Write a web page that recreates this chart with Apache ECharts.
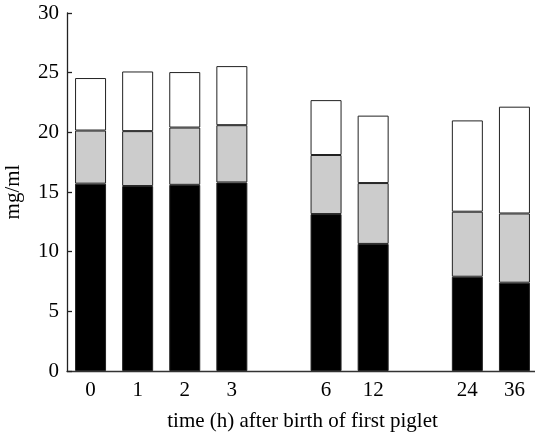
<!DOCTYPE html>
<html>
<head>
<meta charset="utf-8">
<script src="https://cdn.jsdelivr.net/npm/echarts@6/dist/echarts.min.js"></script>
<style>html,body{margin:0;padding:0;background:#fff;}#c{width:535px;height:434px;}</style>
</head>
<body>
<div id="c"></div>
<script>
// Categories ('' = visual gap between groups)
var categories = ['0', '1', '2', '3', '', '6', '12', '', '24', '36'];
// Stacked segments (mg/ml), bottom to top
var blackValues = [15.7, 15.5, 15.6, 15.8, '-', 13.15, 10.65, '-', 7.9, 7.4];
var grayValues  = [4.45, 4.6, 4.8, 4.8, '-', 4.95, 5.1, '-', 5.45, 5.8];
var whiteValues = [4.4, 5.0, 4.65, 4.95, '-', 4.6, 5.65, '-', 7.65, 8.95];
var yTicks = [0, 5, 10, 15, 20, 25, 30];

var font = 'Liberation Serif';
var chart = echarts.init(document.getElementById('c'), null, {renderer: 'canvas'});
function seg(name, data, color) {
  return {
    name: name, type: 'bar', stack: 'total', data: data, barWidth: 31,
    itemStyle: {color: color, borderColor: '#222', borderWidth: 1},
    emphasis: {disabled: true}
  };
}
chart.setOption({
  animation: false,
  backgroundColor: '#fff',
  grid: {left: 67, right: -3, top: 13, bottom: 63, containLabel: false, outerBoundsMode: 'none'},
  xAxis: {
    type: 'category',
    data: categories,
    name: 'time (h) after birth of first piglet',
    nameLocation: 'middle',
    nameGap: 40,
    nameTextStyle: {fontFamily: font, fontSize: 21, color: '#000'},
    axisLine: {lineStyle: {color: '#333', width: 1.3}},
    axisTick: {show: false},
    axisLabel: {fontFamily: font, fontSize: 21, color: '#000', margin: 9, interval: 0},
    splitLine: {show: false}
  },
  yAxis: {
    type: 'value',
    min: yTicks[0], max: yTicks[yTicks.length - 1], interval: 5,
    name: 'mg/ml',
    nameLocation: 'middle',
    nameGap: 43,
    nameTextStyle: {fontFamily: font, fontSize: 21, color: '#000'},
    axisLine: {show: true, lineStyle: {color: '#222', width: 1.3}},
    axisTick: {show: true, inside: true, length: 5, lineStyle: {color: '#222', width: 1.3}},
    axisLabel: {fontFamily: font, fontSize: 21, color: '#000', margin: 8},
    splitLine: {show: false}
  },
  series: [
    seg('black', blackValues, '#000'),
    seg('gray', grayValues, '#cccccc'),
    seg('white', whiteValues, '#ffffff')
  ]
});
</script>
</body>
</html>
